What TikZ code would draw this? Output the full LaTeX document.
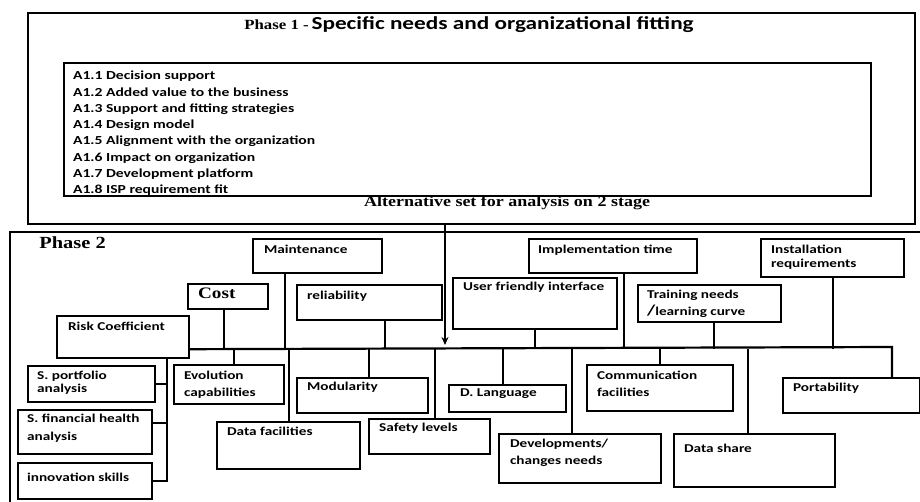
\documentclass[tikz,border=0pt]{standalone}
\usepackage{fontspec}
\setmainfont{Carlito}[FakeStretch=1.27]
\newfontfamily\timesbf{Liberation Serif}[FakeStretch=1.2]
\usetikzlibrary{arrows.meta}

\begin{document}
\begin{tikzpicture}[x=1pt,y=-1pt,line width=2.2pt]
\tikzstyle{crit}=[draw, anchor=north west, inner sep=0pt]
\tikzstyle{lbl}=[anchor=north west, inner sep=0pt, align=left, font=\fontsize{12}{17}\selectfont\bfseries]
\useasboundingbox (0,0) rectangle (920,502);

% phase 1
\node (p1) [crit, minimum width=887, minimum height=211] at (27,12) {};
\node (p1title) [anchor=base] at (469,30) {{\timesbf\bfseries\fontsize{14}{15}\selectfont Phase 1 -} {\fontsize{18.3}{20}\selectfont\bfseries Specific needs and organizational fitting}};
\node (p1list) [crit, minimum width=807, minimum height=133] at (63,62) {};
\node (alist) [lbl, font=\fontsize{12.3}{16.3}\selectfont\bfseries] at (72,70) {A1.1 Decision support\\A1.2 Added value to the business\\A1.3 Support and fitting strategies\\A1.4 Design model\\A1.5 Alignment with the organization\\A1.6 Impact on organization\\A1.7 Development platform\\A1.8 ISP requirement fit};
\node (alt) [anchor=base] at (507,207) {\timesbf\bfseries\fontsize{15}{17}\selectfont Alternative set for analysis on 2 stage};

% phase 2
\draw (10,502) -- (10,232) -- (920,232);
\node (p2title) [anchor=base west] at (35,249) {\timesbf\bfseries\fontsize{17}{19}\selectfont Phase 2};

% criteria above the line
\node (maint) [crit, minimum width=129, minimum height=34] at (252,238) {};
\node [lbl] at ([shift={(11,6)}]maint.north west) {Maintenance};
\node (impl) [crit, minimum width=168, minimum height=34] at (528,238) {};
\node [lbl] at ([shift={(9,6)}]impl.north west) {Implementation time};
\node (inst) [crit, minimum width=143, minimum height=38] at (760,238) {};
\node [lbl, font=\fontsize{12}{14}\selectfont\bfseries] at ([shift={(10,6)}]inst.north west) {Installation\\requirements};
\node (cost) [crit, minimum width=80, minimum height=25] at (187,283) {};
\node [anchor=north west, inner sep=0pt] at ([shift={(10,4)}]cost.north west) {\timesbf\bfseries\fontsize{16}{17}\selectfont Cost};
\node (rel) [crit, minimum width=145, minimum height=35] at (296,284) {};
\node [lbl] at ([shift={(10,6)}]rel.north west) {reliability};
\node (ufi) [crit, minimum width=164, minimum height=51] at (452,277) {};
\node [lbl] at ([shift={(10,4)}]ufi.north west) {User friendly interface};
\node (train) [crit, minimum width=143, minimum height=37] at (637,284) {};
\node [lbl] at ([shift={(9,5)}]train.north west) {Training needs\\{\fontsize{15}{17}\selectfont/}learning curve};
\node (risk) [crit, minimum width=132, minimum height=42] at (56,315) {};
\node [lbl] at ([shift={(11,6)}]risk.north west) {Risk Coefficient};

% criteria below the line
\node (sport) [crit, minimum width=127, minimum height=36] at (27,365) {};
\node [lbl, font=\fontsize{12}{13}\selectfont\bfseries] at ([shift={(9,5)}]sport.north west) {S. portfolio\\analysis};
\node (sfin) [crit, minimum width=134, minimum height=44] at (17,409) {};
\node [lbl, font=\fontsize{12}{18}\selectfont\bfseries] at ([shift={(9,4)}]sfin.north west) {S. financial health\\analysis};
\node (innov) [crit, minimum width=134, minimum height=36] at (17,462) {};
\node [lbl] at ([shift={(9,10)}]innov.north west) {innovation skills};
\node (evol) [crit, minimum width=110, minimum height=39] at (173,364) {};
\node [lbl] at ([shift={(10,6)}]evol.north west) {Evolution\\capabilities};
\node (dfac) [crit, minimum width=143, minimum height=47] at (216,421) {};
\node [lbl] at ([shift={(10,5)}]dfac.north west) {Data facilities};
\node (modu) [crit, minimum width=131, minimum height=35] at (296,377) {};
\node [lbl] at ([shift={(10,4)}]modu.north west) {Modularity};
\node (safe) [crit, minimum width=121, minimum height=35] at (368,418) {};
\node [lbl] at ([shift={(10,4)}]safe.north west) {Safety levels};
\node (dlang) [crit, minimum width=117, minimum height=27] at (448,384) {};
\node [lbl] at ([shift={(11,4)}]dlang.north west) {D. Language};
\node (comm) [crit, minimum width=146, minimum height=46] at (586,364) {};
\node [lbl] at ([shift={(10,6)}]comm.north west) {Communication\\facilities};
\node (devch) [crit, minimum width=162, minimum height=49] at (498,433) {};
\node [lbl] at ([shift={(11,5)}]devch.north west) {Developments/\\changes needs};
\node (dshare) [crit, minimum width=161, minimum height=53] at (673,433) {};
\node [lbl] at ([shift={(10,10)}]dshare.north west) {Data share};
\node (porta) [crit, minimum width=137, minimum height=35] at (782,377) {};
\node [lbl] at ([shift={(10,5)}]porta.north west) {Portability};

% main line
\coordinate (busW) at ([yshift=10]risk.south east);
\coordinate (busE) at (892,347);
\coordinate (arr) at (445,347);
\draw (busW) -- (busE) -- (busE |- porta.north);
\draw[-{Stealth[length=8pt,width=7pt]}, shorten >=2pt, line width=2pt] (p1.south -| arr) -- (arr);

\draw ([xshift=-33]maint.south) -- ([xshift=-33]maint.south |- busW);
\draw ([xshift=-4]cost.south) -- ([xshift=-4]cost.south |- busW);
\draw ([xshift=15]rel.south) -- ([xshift=15]rel.south |- busW);
\draw (ufi.south) -- (ufi.south |- busW);
\draw ([xshift=11]impl.south) -- ([xshift=11]impl.south |- busW);
\draw ([xshift=4]train.south) -- ([xshift=4]train.south |- busW);
\draw (inst.south) -- (inst.south |- busW);

\draw ([xshift=5]evol.north) -- ([xshift=5]evol.north |- busW);
\draw (dfac.north) -- (dfac.north |- busW);
\draw ([xshift=6]modu.north) -- ([xshift=6]modu.north |- busW);
\draw ([xshift=5]safe.north) -- ([xshift=5]safe.north |- busW);
\draw ([xshift=-5]dlang.north) -- ([xshift=-5]dlang.north |- busW);
\draw ([xshift=-8]devch.north) -- ([xshift=-8]devch.north |- busW);
\draw (comm.north) -- (comm.north |- busW);
\draw ([xshift=-7]dshare.north) -- ([xshift=-7]dshare.north |- busW);

% risk branches
\coordinate (spine) at ([xshift=44]risk.south);
\draw (spine) -- (spine |- innov.east) -- (innov.east);
\draw (sport.east) -- (sport.east -| spine);
\draw ([yshift=9]sfin.east) -- ([yshift=9]sfin.east -| spine);
\end{tikzpicture}
\end{document}
